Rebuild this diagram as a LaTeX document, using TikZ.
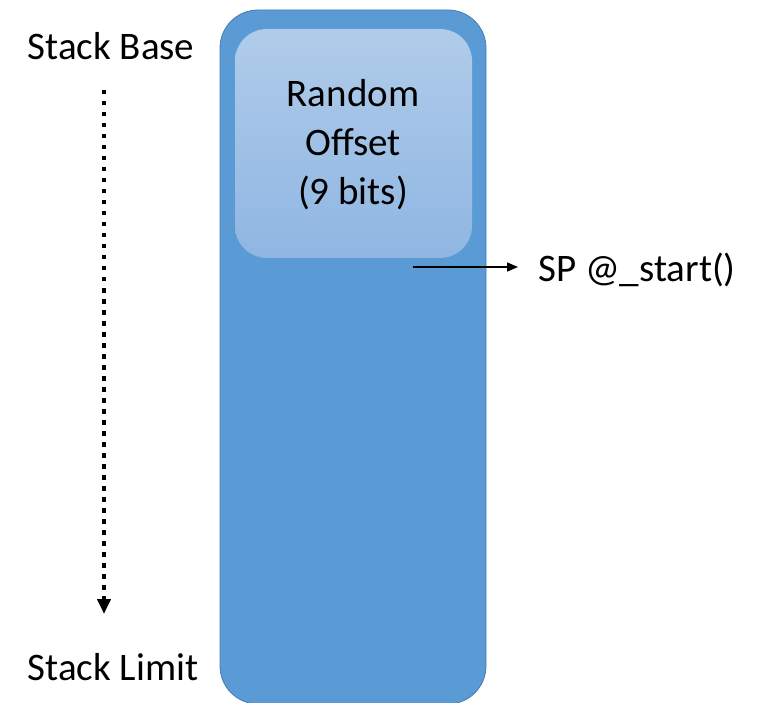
\documentclass[tikz,border=0pt]{standalone}
\usepackage{fontspec}
\setmainfont{Carlito}
\usepackage{tikz}
\usetikzlibrary{arrows.meta,positioning}

\definecolor{stackblue}{RGB}{91,155,213}
\definecolor{stackedge}{RGB}{70,125,180}
\definecolor{offsettop}{RGB}{176,204,234}
\definecolor{offsetbot}{RGB}{143,182,226}

\begin{document}
\begin{tikzpicture}[x=1pt,y=-1pt,
    every node/.style={inner sep=0pt,font=\fontsize{39}{49}\selectfont},
    stackbox/.style={draw=stackedge,line width=0.8pt,fill=stackblue,rounded corners=38pt,minimum width=266pt,minimum height=694pt},
    offsetbox/.style={top color=offsettop,bottom color=offsetbot,rounded corners=32pt,minimum width=237pt,minimum height=229pt},
    growth/.style={line width=4.5pt,dash pattern=on 4.5pt off 6.5pt,-{Triangle[width=13pt,length=15pt]}},
    pointer/.style={line width=1.6pt,-{Triangle[width=9pt,length=11pt]}}]
        \useasboundingbox (0,0) rectangle (760,703);
        % stack frame
        \node [stackbox] (stack) at (353,357) {};
        \node [offsetbox] (offset) at (353.5,143.5) {};
        \node [align=center] (offtext) at (353,145) {Random\\Offset\\(9 bits)};
        % labels on the left
        \node (base) at (111,46) {Stack Base};
        \node (limit) at (113,667) {Stack Limit};
        \coordinate (gtop) at (104,90);
        \coordinate (gbot) at (104,614);
        \draw [growth] (gtop) -- (gbot);
        % stack pointer
        \node [anchor=west] (sp) at (538,270) {SP @\_start()};
        \coordinate (spfrom) at (413,267);
        \draw [pointer,shorten >=20pt] (spfrom) -- (spfrom -| sp.west);
\end{tikzpicture}
\end{document}
